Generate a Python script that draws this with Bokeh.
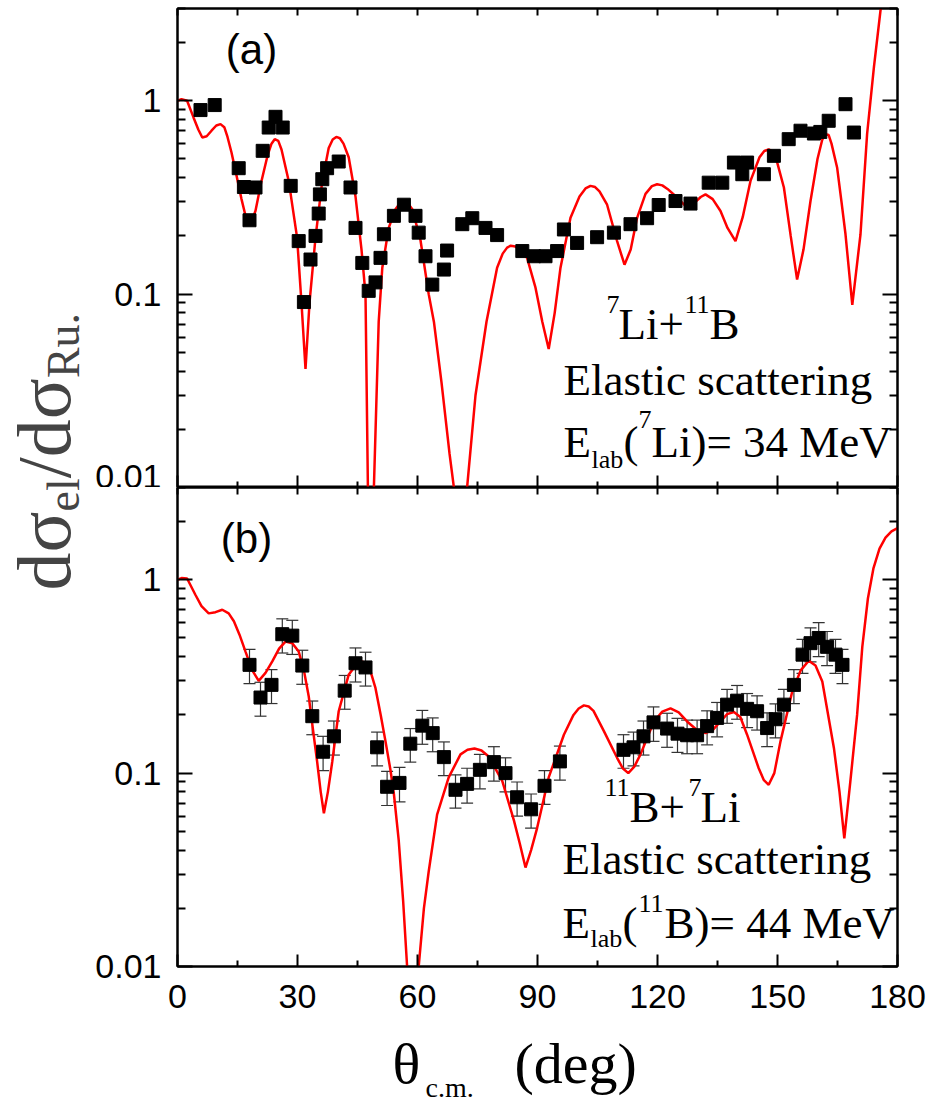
import math
from bokeh.plotting import figure
from bokeh.layouts import row, column
from bokeh.models import (Range1d, LogAxis, LinearAxis, FixedTicker, Whisker, TeeHead,
                          ColumnDataSource, Label, CustomJSTickFormatter)
from bokeh.embed import file_html
from bokeh.resources import INLINE

# ---------------- data: panel (a) 7Li + 11B, 34 MeV ----------------
theta_a_exp = [5.75, 9.3, 15.3, 16.6, 19.5, 18.0, 21.3, 22.8, 24.5, 26.3, 28.3, 30.3, 31.6,
               33.25, 34.5, 35.3, 35.6, 36.2, 37.4, 40.3, 43.25, 44.5, 46.2, 47.8, 49.5,
               50.75, 51.6, 54.1, 56.6, 59.5, 60.3, 62.0, 63.7, 66.6, 67.4, 71.2, 73.7,
               77.0, 79.9, 86.2, 89.1, 92.0, 94.9, 96.6, 99.9, 104.9, 109.1, 113.25,
               117.4, 120.3, 124.5, 128.25, 132.8, 136.2, 139.1, 141.2, 142.4, 146.6,
               149.1, 152.8, 155.75, 159.1, 160.7, 162.8, 167.0, 169.1]
ratio_a_exp = [0.895, 0.95, 0.448, 0.358, 0.356, 0.241, 0.551, 0.727, 0.826, 0.727, 0.363,
               0.188, 0.091, 0.151, 0.2, 0.261, 0.328, 0.393, 0.448, 0.485, 0.356, 0.22,
               0.145, 0.104, 0.115, 0.154, 0.204, 0.254, 0.29, 0.254, 0.208, 0.157, 0.112,
               0.134, 0.168, 0.23, 0.247, 0.22, 0.202, 0.167, 0.157, 0.157, 0.167, 0.216,
               0.184, 0.197, 0.208, 0.23, 0.247, 0.289, 0.303, 0.294, 0.377, 0.377, 0.479,
               0.417, 0.479, 0.417, 0.519, 0.633, 0.70, 0.677, 0.69, 0.788, 0.96, 0.685]

theta_a_th = [0, 1, 2.4, 4, 5.2, 6.2, 7.3, 8.5, 9.7, 10.75, 11.7, 12.5, 13.5, 14.5, 16, 17.1,
              17.8, 18.6, 19.5, 21, 22.5, 23.5, 24.3, 25.2, 26, 27.8, 29.9, 31, 32, 33,
              34.5, 36.2, 37.8, 38.8, 39.7, 40.6, 41.5, 42.8, 44.5, 46, 47, 47.6, 48.3,
              49.1, 50.3, 51.2, 52.8, 54.5, 55.6, 56.6, 57.6, 58.7, 60.75, 62.8, 64.1, 66,
              68, 69.1, 70.8, 72.4, 74.5, 77.25, 79.9, 81.3, 82.4, 83.3, 84.1, 85, 86, 87.4,
              89.5, 91.2, 92.8, 94.3, 95.75, 98.25, 100.5, 102, 103.25, 104.4, 105.5,
              107.4, 109.9, 111.75, 113.3, 114.9, 117, 118.6, 119.9, 121.2, 122.5, 124.9,
              127.4, 129.5, 130.8, 132, 133.8, 135.75, 137.5, 139.5, 141.3, 143.25, 145.5,
              146.7, 147.8, 148.8, 149.8, 151.6, 153.3, 154.9, 156.5, 158.25, 160, 161.2,
              162, 162.8, 163.5, 164.9, 166, 167, 168.7, 170.75, 172.4, 174.1, 175.75,
              177.5, 180]
ratio_a_th = [1.0, 1.02, 1.0, 0.82, 0.71, 0.646, 0.655, 0.70, 0.745, 0.757, 0.73, 0.65,
              0.54, 0.434, 0.31, 0.25, 0.234, 0.24, 0.27, 0.385, 0.52, 0.6, 0.633, 0.62,
              0.56, 0.385, 0.196, 0.09, 0.041, 0.09, 0.196, 0.385, 0.57, 0.63, 0.65, 0.64,
              0.6, 0.51, 0.32, 0.17, 0.1, 0.01, 0.002, 0.01, 0.072, 0.137, 0.22, 0.275,
              0.295, 0.30, 0.295, 0.275, 0.19, 0.1, 0.072, 0.035, 0.015, 0.01, 0.002, 0.01,
              0.03, 0.072, 0.137, 0.162, 0.174, 0.178, 0.177, 0.174, 0.168, 0.154, 0.108,
              0.072, 0.052, 0.08, 0.137, 0.248, 0.32, 0.352, 0.363, 0.358, 0.34, 0.29,
              0.188, 0.142, 0.17, 0.248, 0.33, 0.362, 0.37, 0.365, 0.35, 0.316, 0.28, 0.30,
              0.318, 0.328, 0.31, 0.269, 0.22, 0.188, 0.25, 0.385, 0.51, 0.55, 0.56, 0.545,
              0.49, 0.356, 0.2, 0.119, 0.17, 0.303, 0.5, 0.63, 0.672, 0.665, 0.6, 0.452,
              0.3, 0.204, 0.088, 0.204, 0.672, 1.49, 2.93, 5.0, 8.0]

# ---------------- data: panel (b) 11B + 7Li, 44 MeV ----------------
theta_b_exp = [18, 20.75, 23.5, 26.2, 28.7, 31.2, 33.7, 36.4, 39.1, 41.8, 44.5, 47, 49.9,
               52.4, 55.5, 58.2, 61.2, 63.8, 66.6, 69.5, 72.4, 75.6, 79.1, 82, 84.9, 88.4,
               91.75, 95.6, 111.5, 114, 116.5, 119, 122.4, 125, 127.4, 129.9, 132.4,
               134.9, 137.4, 139.9, 142.4, 144.9, 147.4, 149.5, 151.6, 154.1, 156.25,
               158.25, 160.3, 162.4, 164.5, 166.25]
ratio_b_exp = [0.363, 0.246, 0.286, 0.523, 0.514, 0.36, 0.197, 0.129, 0.155, 0.267, 0.37,
               0.352, 0.136, 0.085, 0.089, 0.142, 0.176, 0.161, 0.121, 0.082, 0.088, 0.104,
               0.114, 0.10, 0.075, 0.065, 0.086, 0.115, 0.132, 0.136, 0.155, 0.183, 0.17,
               0.16, 0.157, 0.157, 0.175, 0.193, 0.226, 0.237, 0.215, 0.209, 0.171, 0.19,
               0.226, 0.286, 0.41, 0.47, 0.50, 0.45, 0.41, 0.363]
err_b_exp = [0.073, 0.049, 0.057, 0.105, 0.103, 0.072, 0.039, 0.026, 0.031, 0.053, 0.074,
             0.07, 0.027, 0.017, 0.018, 0.028, 0.035, 0.032, 0.024, 0.016, 0.018, 0.021,
             0.023, 0.02, 0.015, 0.013, 0.017, 0.023, 0.026, 0.027, 0.031, 0.037, 0.034,
             0.032, 0.031, 0.031, 0.035, 0.039, 0.045, 0.047, 0.043, 0.042, 0.034, 0.038,
             0.045, 0.057, 0.082, 0.094, 0.1, 0.09, 0.082, 0.073]

theta_b_th = [0, 1, 2.4, 4.5, 6, 7.8, 9.5, 11.2, 12.8, 14.1, 15.5, 17, 18.7, 20.3, 22,
              23.7, 25.4, 27, 28.7, 30.3, 31.6, 32.8, 34, 34.9, 35.8, 36.6, 37.6, 38.7,
              40.3, 42.8, 44.5, 46.2, 48, 49.5, 50.8, 52, 53.2, 54.1, 55.3, 56.4, 57.4,
              58.8, 60.3, 61.6, 62.8, 64.9, 67.8, 70.75, 72.5, 74.25, 76, 77.8, 81.2, 84.1,
              85.6, 87, 88.4, 89.9, 92.8, 96.6, 99, 100.3, 101.6, 102.8, 104, 106.6, 109.9,
              111.3, 112.7, 114.2, 115.75, 119.1, 121.2, 123.25, 125.3, 127.4, 129.7, 132,
              133.9, 135.75, 137.4, 139.1, 140.7, 142.4, 145.3, 146.6, 147.8, 149.2,
              150.75, 153.7, 155.8, 157.8, 159.5, 161.2, 164.1, 165.5, 166.7, 168.2,
              169.9, 171.2, 172.6, 174, 175.5, 177, 178.5, 180]
ratio_b_th = [1.0, 1.02, 1.015, 0.834, 0.73, 0.67, 0.68, 0.70, 0.67, 0.61, 0.52, 0.425,
              0.34, 0.30, 0.33, 0.378, 0.44, 0.479, 0.47, 0.425, 0.34, 0.25, 0.16, 0.115,
              0.08, 0.062, 0.08, 0.115, 0.209, 0.323, 0.36, 0.378, 0.35, 0.275, 0.2,
              0.146, 0.105, 0.078, 0.045, 0.022, 0.01, 0.002, 0.01, 0.02, 0.031, 0.061,
              0.095, 0.125, 0.132, 0.134, 0.131, 0.122, 0.091, 0.057, 0.043, 0.0325, 0.04,
              0.052, 0.095, 0.158, 0.2, 0.216, 0.224, 0.221, 0.21, 0.165, 0.12, 0.106,
              0.10, 0.108, 0.125, 0.185, 0.208, 0.216, 0.206, 0.185, 0.168, 0.161, 0.168,
              0.185, 0.202, 0.207, 0.195, 0.158, 0.106, 0.092, 0.087, 0.1, 0.146, 0.265,
              0.34, 0.381, 0.36, 0.298, 0.135, 0.08, 0.046, 0.09, 0.2, 0.45, 0.8, 1.15,
              1.45, 1.65, 1.78, 1.85]

x_major = [0, 30, 60, 90, 120, 150, 180]
x_minor = [15, 45, 75, 105, 135, 165]
y_major = [0.01, 0.1, 1]
y_minor = [0.02, 0.03, 0.04, 0.05, 0.06, 0.07, 0.08, 0.09,
           0.2, 0.3, 0.4, 0.5, 0.6, 0.7, 0.8, 0.9, 2, 3]

SANS = "Liberation Sans"
SERIF = "Liberation Serif"
RED = "#ff0000"

LEFT_W = 88
BORDER_L = 177 - LEFT_W
BORDER_R = 38
PB_BOTTOM = 58
SHIFT = 0.3   # rendered baseline sits this many em below a Label's anchor

fmt = CustomJSTickFormatter(code="return tick.toString();")
blank_fmt = CustomJSTickFormatter(code="return '';")


def style(ax, show_labels, tin, tmin, size="34px", standoff=14):
    ax.axis_line_color = "black"
    ax.axis_line_width = 2
    ax.major_tick_line_color = "black"
    ax.major_tick_line_width = 2
    ax.minor_tick_line_color = "black"
    ax.minor_tick_line_width = 2
    ax.major_tick_in = tin
    ax.major_tick_out = 0
    ax.minor_tick_in = tmin
    ax.minor_tick_out = 0
    if show_labels:
        ax.major_label_text_font = SANS
        ax.major_label_text_font_size = size
        ax.major_label_text_color = "black"
        ax.major_label_standoff = standoff
    else:
        ax.formatter = blank_fmt
        ax.major_label_text_font_size = "2px"
        ax.major_label_standoff = 0


def make_panel(min_top, min_bottom, show_x):
    p = figure(frame_width=720, frame_height=479, x_range=Range1d(0, 180),
               y_range=Range1d(0.01, 3.0), y_axis_type="log",
               output_backend="svg", toolbar_location=None,
               min_border_left=BORDER_L, min_border_right=BORDER_R,
               min_border_top=min_top, min_border_bottom=min_bottom)
    p.grid.visible = False
    p.outline_line_color = "black"
    p.outline_line_width = 2
    p.background_fill_color = "white"
    p.border_fill_color = "white"

    xa = p.xaxis[0]
    xa.ticker = FixedTicker(ticks=x_major, minor_ticks=x_minor)
    style(xa, show_x, 12, 6, size="34px", standoff=18)

    ya = p.yaxis[0]
    ya.ticker = FixedTicker(ticks=y_major, minor_ticks=y_minor)
    ya.formatter = fmt
    style(ya, True, 15, 8, size="34px", standoff=16)

    top = LinearAxis(ticker=FixedTicker(ticks=x_major, minor_ticks=x_minor))
    style(top, False, 7, 7)
    p.add_layout(top, "above")
    right = LogAxis(ticker=FixedTicker(ticks=y_major, minor_ticks=y_minor))
    style(right, False, 15, 8)
    p.add_layout(right, "right")
    return p


def lab(p, x, y, text, size, font=SERIF, align="left", baseline="alphabetic"):
    p.add_layout(Label(x=x, y=y, text=text, text_font=font, text_font_size=size,
                       text_color="black", text_align=align, text_baseline=baseline))


BIG, SMALL = "45px", "26px"

# ---------------- panel (a) ----------------
pa = make_panel(8, 0, False)
pa.line(theta_a_th, ratio_a_th, line_color=RED, line_width=2.5)
pa.scatter(theta_a_exp, ratio_a_exp, marker="square", size=13, color="black")
lab(pa, 18.5, 1.85, "(a)", "42px", font=SANS, align="center", baseline="middle")
lab(pa, 107.25, 0.0886, "7", SMALL)
lab(pa, 110.25, 0.0700, "Li+", BIG)
lab(pa, 126.75, 0.0886, "11", SMALL)
lab(pa, 133.0, 0.0700, "B", BIG)
lab(pa, 96.5, 0.0360, "Elastic scattering", BIG)
lab(pa, 96.5, 0.0172, "E", BIG)
lab(pa, 103.5, 0.0140, "lab", SMALL)
lab(pa, 111.5, 0.0172, "(", BIG)
lab(pa, 115.25, 0.0226, "7", SMALL)
lab(pa, 118.5, 0.0172, "Li)= 34 MeV", BIG)

# ---------------- panel (b) ----------------
pb = make_panel(0, PB_BOTTOM, True)
src = ColumnDataSource(dict(x=theta_b_exp, y=ratio_b_exp,
                            upper=[v + e for v, e in zip(ratio_b_exp, err_b_exp)],
                            lower=[v - e for v, e in zip(ratio_b_exp, err_b_exp)]))
pb.add_layout(Whisker(source=src, base="x", upper="upper", lower="lower",
                      line_color="#333333", line_width=1.2,
                      upper_head=TeeHead(size=12, line_color="#333333", line_width=1.2),
                      lower_head=TeeHead(size=12, line_color="#333333", line_width=1.2)))
pb.line(theta_b_th, ratio_b_th, line_color=RED, line_width=2.5)
pb.scatter("x", "y", source=src, marker="square", size=13, color="black")
lab(pb, 17.25, 1.64, "(b)", "42px", font=SANS, align="center", baseline="middle")
lab(pb, 106.75, 0.0845, "11", SMALL)
lab(pb, 113.0, 0.0668, "B+", BIG)
lab(pb, 127.75, 0.0845, "7", SMALL)
lab(pb, 130.75, 0.0668, "Li", BIG)
lab(pb, 96.25, 0.0360, "Elastic scattering", BIG)
lab(pb, 96.25, 0.0167, "E", BIG)
lab(pb, 103.25, 0.0139, "lab", SMALL)
lab(pb, 111.25, 0.0167, "(", BIG)
lab(pb, 115.25, 0.0212, "11", SMALL)
lab(pb, 121.75, 0.0167, "B)= 44 MeV", BIG)


def blank(fw, fh, xr, yr, bl=0, br=0):
    f = figure(frame_width=fw, frame_height=fh, x_range=xr, y_range=yr,
               output_backend="svg", toolbar_location=None,
               min_border_left=bl, min_border_right=br, min_border_top=0,
               min_border_bottom=0)
    f.axis.visible = False
    f.grid.visible = False
    f.outline_line_color = None
    f.background_fill_color = "white"
    f.border_fill_color = "white"
    return f


# x axis title: same horizontal frame as the panels, x in degrees, y in page pixels
XT_TOP = 8 + 479 + 479 + PB_BOTTOM
xt = blank(720, 1105 - XT_TOP, Range1d(0, 180), Range1d(1105, XT_TOP),
           bl=BORDER_L, br=BORDER_R)


def px2deg(px):
    return (px - 177) / 4.0


for txt, x0, base, fs in [("θ", 392, 1080, 58), ("c.m.", 425, 1095, 28),
                          ("(deg)", 514, 1080, 58)]:
    lab(xt, px2deg(x0), base - SHIFT * fs, txt, f"{fs}px")

# y axis title, rotated, pieces stacked bottom-to-top (page-pixel coordinates)
F_MAIN, F_SUB = 76, 46
yl = blank(LEFT_W, 1105, Range1d(0, LEFT_W), Range1d(1105, 0))
pieces = [("dσ", F_MAIN, 66, 1.04), ("el", F_SUB, 77, 0.722),
          ("/dσ", F_MAIN, 66, 1.318), ("Ru.", F_SUB, 77, 1.417)]
ypos = 590
for txt, fs, base_x, em in pieces:
    yl.add_layout(Label(x=base_x - SHIFT * fs, y=ypos, text=txt, text_font=SERIF,
                        text_font_size=f"{fs}px", angle=math.pi / 2,
                        text_align="left", text_baseline="alphabetic"))
    ypos -= em * fs

layout = row(yl, column(pa, pb, xt))
open("out.html", "w").write(file_html(layout, INLINE))
